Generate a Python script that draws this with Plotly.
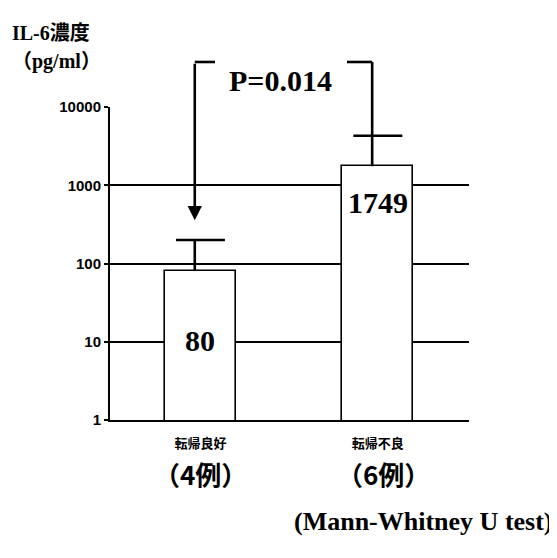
import numpy as np
import plotly.graph_objects as go

# ---- data ----
categories = ["転帰良好", "転帰不良"]
case_labels = ["（4例）", "（6例）"]
means = [80, 1749]
upper = [200, 4300]
value_labels = ["80", "1749"]
y_tickvals = [1, 10, 100, 1000, 10000]
y_ticktext = ["1", "10", "100", "1000", "10000"]
p_text = "P=0.014"
test_text = "(Mann-Whitney U test)"

xpos = [1, 2]
err_dx = -0.032      # error stem sits slightly left of bar centre (as in the original)
cap_half = 0.138     # cap half-width in x units
serif = "Liberation Serif, Noto Sans CJK JP, serif"
cjk = "Noto Sans CJK JP, sans-serif"

fig = go.Figure()
fig.add_trace(go.Bar(
    x=xpos, y=means, width=0.40,
    marker=dict(color="white", line=dict(color="black", width=1.6)),
    showlegend=False, hoverinfo="skip",
))

# upper-only error bars (stem + cap, no cap at the bar top)
ex, ey = [], []
for xv, m, u in zip(xpos, means, upper):
    ex += [xv + err_dx, xv + err_dx, None, xv - cap_half, xv + cap_half, None]
    ey += [m, u, None, u, u, None]
fig.add_trace(go.Scatter(
    x=ex, y=ey, mode="lines", line=dict(color="black", width=2.6),
    showlegend=False, hoverinfo="skip",
))

annotations = []
label_y = [1.01, 2.786]
for xv, lab, ly in zip(xpos, value_labels, label_y):
    annotations.append(dict(x=xv, y=ly, xref="x", yref="y", text=lab, showarrow=False,
                            font=dict(family=serif, size=30, color="black", weight="bold")))

bracket_y = 1.1438
xl = xpos[0] + err_dx
xr = xpos[1] + err_dx
shapes = [
    dict(type="line", xref="x", yref="paper", x0=xl, x1=1.082, y0=bracket_y, y1=bracket_y,
         line=dict(color="black", width=2.6)),
    dict(type="line", xref="x", yref="paper", x0=1.826, x1=xr, y0=bracket_y, y1=bracket_y,
         line=dict(color="black", width=2.6)),
    dict(type="line", xref="x", yref="paper", x0=xr, x1=xr, y0=bracket_y,
         y1=np.log10(upper[1]) / 4, line=dict(color="black", width=2.6)),
]
annotations.append(dict(x=xl, y=np.log10(357), xref="x", yref="y", text="", showarrow=True,
                        ax=0, ay=-158, arrowhead=2, arrowsize=1.1, arrowwidth=2.6,
                        arrowcolor="black", standoff=0))
annotations.append(dict(x=1.45, y=bracket_y, xref="x", yref="paper", text=p_text, showarrow=False,
                        font=dict(family=serif, size=30, color="black", weight="bold")))

for xv, lab in zip([1.0, 2.034], case_labels):
    annotations.append(dict(x=xv, y=-0.236, xref="x", yref="paper", text=lab, showarrow=False,
                            font=dict(family=cjk, size=26, color="black", weight="bold")))
annotations.append(dict(x=1.2396, y=-0.377, xref="paper", yref="paper", text=test_text,
                        showarrow=False, xanchor="right",
                        font=dict(family=serif, size=26, color="black", weight="bold")))
annotations.append(dict(x=-0.2786, y=1.278, xref="paper", yref="paper", text="IL-6濃度",
                        showarrow=False, xanchor="left",
                        font=dict(family=serif, size=20, color="black", weight="bold")))
annotations.append(dict(x=-0.2786, y=1.1885, xref="paper", yref="paper", text="（pg/ml）",
                        showarrow=False, xanchor="left",
                        font=dict(family=serif, size=20, color="black", weight="bold")))

# the page body adds an 8px offset, so the figure is 8px smaller
fig.update_layout(
    width=549, height=550,
    margin=dict(l=102, r=88, t=99, b=138),
    paper_bgcolor="white", plot_bgcolor="white",
    annotations=annotations, shapes=shapes,
    bargap=0,
)
fig.update_xaxes(
    range=[0.49, 2.514], tickvals=xpos, ticktext=categories,
    showline=True, linecolor="black", linewidth=2, showgrid=False, zeroline=False,
    ticks="", ticklabelstandoff=10,
    tickfont=dict(family=cjk, size=13, color="black", weight="bold"),
)
fig.update_yaxes(
    type="log", range=[0, 4], tickvals=y_tickvals, ticktext=y_ticktext,
    showline=True, linecolor="black", linewidth=2,
    showgrid=True, gridcolor="black", gridwidth=1.5, zeroline=False,
    ticks="outside", ticklen=4, tickwidth=1.5, tickcolor="black",
    tickfont=dict(family="Liberation Sans Narrow, Liberation Sans, sans-serif", size=15,
                  color="black", weight="bold"),
)

fig.write_html("out.html")
